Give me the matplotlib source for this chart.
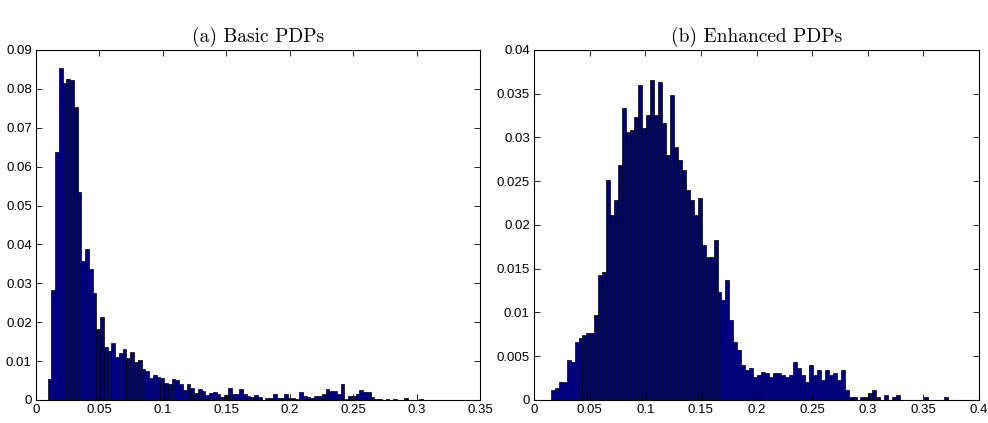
import numpy as np
import matplotlib
matplotlib.use("Agg")
import matplotlib.pyplot as plt
from matplotlib.ticker import FuncFormatter, MultipleLocator

# histogram (a): 100 bins between these limits, bar heights
basic_range = (0.0092, 0.3052)
basic_heights = [
    0.0054, 0.0283, 0.0638, 0.0853, 0.0814, 0.0825, 0.0823, 0.0754, 0.0536, 0.0357,
    0.0387, 0.0338, 0.0274, 0.0182, 0.0214, 0.0135, 0.0127, 0.0146, 0.0110, 0.0120,
    0.0131, 0.0107, 0.0123, 0.0097, 0.0103, 0.0079, 0.0074, 0.0057, 0.0063, 0.0060,
    0.0057, 0.0043, 0.0040, 0.0054, 0.0051, 0.0040, 0.0026, 0.0040, 0.0032, 0.0017,
    0.0027, 0.0024, 0.0013, 0.0019, 0.0021, 0.0015, 0.0007, 0.0013, 0.0030, 0.0015,
    0.0015, 0.0027, 0.0015, 0.0011, 0.0007, 0.0014, 0.0007, 0.0000, 0.0004, 0.0004,
    0.0015, 0.0004, 0.0004, 0.0015, 0.0004, 0.0004, 0.0003, 0.0020, 0.0009, 0.0008,
    0.0004, 0.0011, 0.0009, 0.0015, 0.0027, 0.0023, 0.0024, 0.0015, 0.0041, 0.0003,
    0.0010, 0.0010, 0.0015, 0.0026, 0.0020, 0.0020, 0.0007, 0.0003, 0.0003, 0.0000,
    0.0003, 0.0000, 0.0003, 0.0000, 0.0000, 0.0005, 0.0000, 0.0000, 0.0000, 0.0003,
]

# histogram (b)
enhanced_range = (0.0150, 0.3720)
enhanced_heights = [
    0.0011, 0.0014, 0.0020, 0.0020, 0.0046, 0.0043, 0.0066, 0.0071, 0.0074, 0.0077,
    0.0077, 0.0097, 0.0143, 0.0146, 0.0251, 0.0211, 0.0229, 0.0269, 0.0334, 0.0306,
    0.0309, 0.0323, 0.0360, 0.0311, 0.0326, 0.0366, 0.0326, 0.0363, 0.0317, 0.0280,
    0.0349, 0.0289, 0.0274, 0.0263, 0.0240, 0.0229, 0.0211, 0.0231, 0.0177, 0.0163,
    0.0163, 0.0183, 0.0123, 0.0114, 0.0137, 0.0091, 0.0066, 0.0057, 0.0040, 0.0034,
    0.0037, 0.0026, 0.0029, 0.0032, 0.0031, 0.0026, 0.0031, 0.0031, 0.0029, 0.0026,
    0.0028, 0.0043, 0.0037, 0.0028, 0.0020, 0.0040, 0.0028, 0.0034, 0.0023, 0.0034,
    0.0028, 0.0031, 0.0023, 0.0034, 0.0011, 0.0003, 0.0003, 0.0000, 0.0003, 0.0003,
    0.0008, 0.0011, 0.0003, 0.0000, 0.0006, 0.0000, 0.0003, 0.0006, 0.0000, 0.0000,
    0.0000, 0.0000, 0.0000, 0.0000, 0.0003, 0.0000, 0.0000, 0.0000, 0.0000, 0.0003,
]

panels = [
    ("(a) Basic PDPs", basic_range, basic_heights, 0.35, 0.09, 0.01),
    ("(b) Enhanced PDPs", enhanced_range, enhanced_heights, 0.4, 0.04, 0.005),
]

plt.rcParams["font.family"] = ["Liberation Sans", "DejaVu Sans"]

fig = plt.figure(figsize=(9.88, 4.23), dpi=100)
boxes = [[0.0364, 0.0544, 0.4494, 0.8274], [0.5405, 0.0544, 0.4504, 0.8274]]

fmt = FuncFormatter(lambda v, _: "0" if abs(v) < 1e-12 else f"{v:g}")

for box, (title, rng, heights, xmax, ymax, ystep) in zip(boxes, panels):
    ax = fig.add_axes(box)
    edges = np.linspace(rng[0], rng[1], len(heights) + 1)
    ax.bar(edges[:-1], heights, width=np.diff(edges), align="edge",
           color="#000080", edgecolor="black", linewidth=0.5)
    ax.set_xlim(0, xmax)
    ax.set_ylim(0, ymax)
    ax.xaxis.set_major_locator(MultipleLocator(0.05))
    ax.yaxis.set_major_locator(MultipleLocator(ystep))
    ax.xaxis.set_major_formatter(fmt)
    ax.yaxis.set_major_formatter(fmt)
    ax.tick_params(direction="in", length=4, width=0.6, top=True, right=True,
                   labelsize=9.5, pad=3)
    for s in ax.spines.values():
        s.set_linewidth(0.8)
    ax.set_title(title, fontfamily="cmr10", fontsize=14, pad=6)

fig.savefig("out.png", dpi=100)
